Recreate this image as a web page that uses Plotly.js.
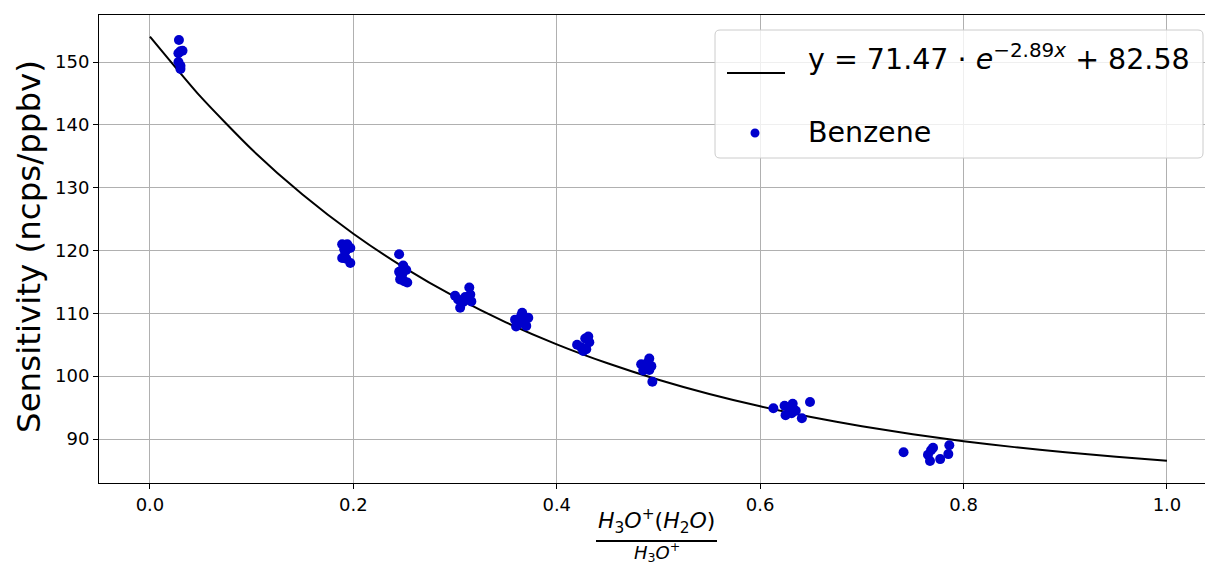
<!DOCTYPE html>
<html>
<head>
<meta charset="utf-8">
<script src="https://cdn.plot.ly/plotly-3.0.1.min.js"></script>
<style>
  html, body { margin: 0; padding: 0; background: #ffffff; }
  #chart { width: 1205px; height: 566px; }
</style>
</head>
<body>
<div id="chart"></div>
<script>
// ---- Data ----
const benzeneX = [
  0.0285, 0.030, 0.028, 0.032, 0.028, 0.030, 0.030,
  0.189, 0.194, 0.197, 0.192, 0.189, 0.193, 0.197, 0.191,
  0.245, 0.249, 0.252, 0.245, 0.247, 0.250, 0.253, 0.248, 0.246,
  0.300, 0.303, 0.305, 0.310, 0.314, 0.315, 0.316, 0.308, 0.312,
  0.359, 0.362, 0.366, 0.368, 0.372, 0.365, 0.370, 0.360,
  0.420, 0.424, 0.428, 0.431, 0.432, 0.426, 0.429,
  0.483, 0.485, 0.489, 0.491, 0.493, 0.494, 0.488, 0.491,
  0.613, 0.624, 0.628, 0.632, 0.625, 0.631, 0.641, 0.649, 0.635,
  0.741, 0.765, 0.767, 0.770, 0.777, 0.785, 0.786, 0.768
];
const benzeneY = [
  153.5, 151.7, 151.4, 151.8, 150.0, 149.4, 148.9,
  121.0, 121.0, 120.4, 119.8, 118.8, 118.7, 118.0, 120.2,
  119.4, 117.6, 116.9, 116.6, 115.8, 115.1, 114.9, 116.2, 115.4,
  112.8, 112.2, 110.9, 112.6, 114.1, 113.0, 111.9, 111.8, 112.4,
  109.0, 108.3, 110.1, 108.4, 109.3, 109.6, 108.0, 107.9,
  105.0, 104.6, 106.0, 106.3, 105.4, 104.0, 104.3,
  101.9, 100.9, 102.1, 102.8, 101.6, 99.1, 101.3, 101.0,
  94.9, 95.3, 95.0, 95.6, 93.8, 94.1, 93.3, 95.9, 94.5,
  87.9, 87.5, 86.5, 88.6, 86.8, 87.6, 89.0, 88.2
];

// Fitted curve
const fitX = [0.0, 0.05, 0.1, 0.15, 0.2, 0.25, 0.3, 0.35, 0.4, 0.45, 0.5,
              0.55, 0.6, 0.65, 0.7, 0.75, 0.8, 0.85, 0.9, 0.95, 1.0];
const fitY = [154.05, 144.44, 136.11, 128.91, 122.67, 117.28, 112.61, 108.57, 105.07, 102.05, 99.43,
              97.16, 95.20, 93.50, 92.03, 90.76, 89.66, 88.71, 87.88, 87.17, 86.55];

const fitLabel = "y = 71.47 · <i>e</i><sup>−2.89<i>x</i></sup> + 82.58";
const seriesLabel = "Benzene";
const xTitleNum = "<i>H</i><sub>3</sub><i>O</i><sup>+</sup>(<i>H</i><sub>2</sub><i>O</i>)";
const xTitleDen = "<i>H</i><sub>3</sub><i>O</i><sup>+</sup>";
const yTitle = "Sensitivity (ncps/ppbv)";

// ---- Layout helpers (pixel -> paper) ----
const W = 1205, H = 566;
const M = {l: 99, r: 0, t: 15, b: 83};
const pw = W - M.l - M.r, ph = H - M.t - M.b;
const PX = px => (px - M.l) / pw;
const PY = py => (H - M.b - py) / ph;

const FONT = "DejaVu Sans, Liberation Sans, sans-serif";
const blue = "#0000CD";

const traces = [
  {
    x: fitX, y: fitY, type: "scatter", mode: "lines",
    line: {color: "#000000", width: 2, shape: "spline", smoothing: 0.6},
    name: fitLabel, showlegend: false, hoverinfo: "skip"
  },
  {
    x: benzeneX, y: benzeneY, type: "scatter", mode: "markers",
    marker: {color: blue, size: 10, line: {width: 0}},
    name: seriesLabel, showlegend: false
  }
];

// rounded legend box
function roundRect(x0, y0, x1, y1, r) {
  const p = (x, y) => PX(x) + "," + PY(y);
  return "M" + p(x0 + r, y0) + " L" + p(x1 - r, y0) +
    " Q" + p(x1, y0) + " " + p(x1, y0 + r) +
    " L" + p(x1, y1 - r) + " Q" + p(x1, y1) + " " + p(x1 - r, y1) +
    " L" + p(x0 + r, y1) + " Q" + p(x0, y1) + " " + p(x0, y1 - r) +
    " L" + p(x0, y0 + r) + " Q" + p(x0, y0) + " " + p(x0 + r, y0) + " Z";
}

const shapes = [
  {type: "path", xref: "paper", yref: "paper", layer: "above",
   path: roundRect(715, 30, 1203, 158, 5),
   fillcolor: "rgba(255,255,255,0.8)", line: {color: "#cccccc", width: 1}},
  {type: "line", xref: "paper", yref: "paper", layer: "above",
   x0: PX(727), x1: PX(785), y0: PY(73), y1: PY(73),
   line: {color: "#000000", width: 2}},
  {type: "circle", xref: "paper", yref: "paper", layer: "above",
   x0: PX(750.5), x1: PX(759.5), y0: PY(128.5), y1: PY(137.5),
   fillcolor: blue, line: {width: 0}},
  // fraction bar for x-axis title
  {type: "line", xref: "paper", yref: "paper", layer: "above",
   x0: PX(596), x1: PX(717), y0: PY(541), y1: PY(541),
   line: {color: "#000000", width: 2}}
];

const annotations = [
  {xref: "paper", yref: "paper", x: PX(806), y: PY(57), xanchor: "left", yanchor: "middle",
   text: fitLabel, showarrow: false, font: {family: FONT, size: 28.5, color: "#000"}},
  {xref: "paper", yref: "paper", x: PX(806), y: PY(132), xanchor: "left", yanchor: "middle",
   text: seriesLabel, showarrow: false, font: {family: FONT, size: 28.5, color: "#000"}},
  {xref: "paper", yref: "paper", x: PX(656.5), y: PY(538), xanchor: "center", yanchor: "bottom",
   text: xTitleNum, showarrow: false, borderpad: 0, font: {family: FONT, size: 22, color: "#000"}},
  {xref: "paper", yref: "paper", x: PX(656.5), y: PY(566), xanchor: "center", yanchor: "bottom",
   text: xTitleDen, showarrow: false, borderpad: 0, font: {family: FONT, size: 18, color: "#000"}},
  {xref: "paper", yref: "paper", x: PX(29), y: PY(247), xanchor: "center", yanchor: "middle",
   text: yTitle, textangle: -90, showarrow: false, font: {family: FONT, size: 32.5, color: "#000"}}
];

const layout = {
  width: W, height: H,
  margin: M,
  paper_bgcolor: "#ffffff", plot_bgcolor: "#ffffff",
  showlegend: false,
  font: {family: FONT, color: "#000000"},
  xaxis: {
    range: [-0.0501, 1.0374],
    tick0: 0, dtick: 0.2, tickformat: ".1f",
    showgrid: true, gridcolor: "#b0b0b0", gridwidth: 1,
    zeroline: false,
    showline: true, linecolor: "#000000", linewidth: 1, mirror: true,
    ticks: "outside", ticklen: 5, tickwidth: 1, tickcolor: "#000000",
    tickfont: {family: FONT, size: 18, color: "#000000"},
    fixedrange: true
  },
  yaxis: {
    range: [83.0, 157.48],
    tick0: 0, dtick: 10,
    showgrid: true, gridcolor: "#b0b0b0", gridwidth: 1,
    zeroline: false,
    showline: true, linecolor: "#000000", linewidth: 1, mirror: true,
    ticks: "outside", ticklen: 5, tickwidth: 1, tickcolor: "#000000",
    tickfont: {family: FONT, size: 18, color: "#000000"},
    fixedrange: true
  },
  shapes: shapes,
  annotations: annotations
};

Plotly.newPlot("chart", traces, layout, {staticPlot: true, displayModeBar: false});
</script>
</body>
</html>
